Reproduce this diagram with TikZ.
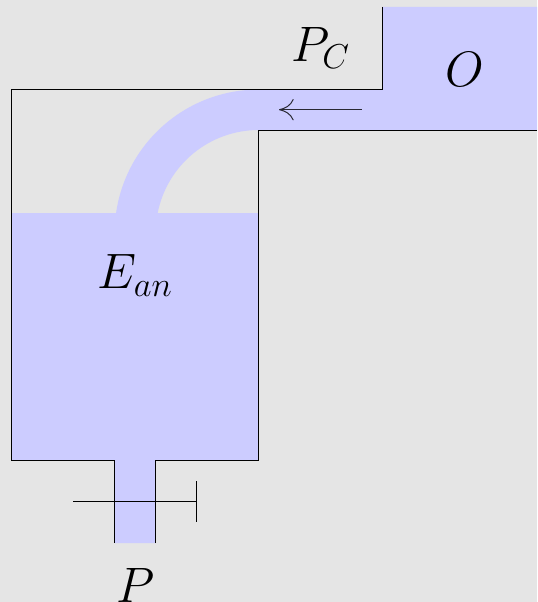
\documentclass[tikz,border=0pt]{standalone}
\usetikzlibrary{arrows.meta}
\definecolor{bgc}{HTML}{E5E5E5}
\definecolor{liquid}{HTML}{CCCCFF}
\tikzset{
  wall/.style={draw=black,line width=0.7pt,line join=miter},
  liq/.style={fill=liquid,draw=none},
  lab/.style={font=\LARGE,scale=2.16,inner sep=0pt},
}
\begin{document}
\begin{tikzpicture}[x=0.75pt,y=-0.75pt]
\fill[bgc] (0,0) rectangle (537,602);
\useasboundingbox (0,0) rectangle (537,602);
% liquid: tank with spout, in one outline
\fill[liq] (11,213) -- (258.7,213) -- (258.7,460) -- (155.5,460) -- (155.5,543)
  -- (114,543) -- (114,460) -- (11,460) -- cycle;
% liquid: reservoir, pipe and bend, in one outline
\fill[liq] (116,213.5) arc[start angle=188,end angle=270,radius=144]
  -- (382,89) -- (382,7) -- (537,7) -- (537,130)
  -- (258.7,130) arc[start angle=270,end angle=191.2,radius=103] -- cycle;
% walls
\draw[wall] (382,7) -- (382,89) -- (11,89) -- (11,460) -- (114,460) -- (114,543);
\draw[wall] (155.5,543) -- (155.5,460) -- (258.7,460) -- (258.7,130) -- (537,130);
% valve
\coordinate (vl) at (73,501.5);
\coordinate (vr) at (196.8,501.5);
\coordinate (vt) at (196.8,481);
\coordinate (vb) at (196.8,522);
\draw[line width=0.7pt] (vl) -- (vr);
\draw[line width=0.7pt] (vt) -- (vb);
% flow arrow
\coordinate (fa) at (361.5,109.7);
\coordinate (fb) at (279,109.7);
\draw[line width=0.75pt,black!80!liquid,-{Computer Modern Rightarrow[length=11pt,width=16pt]}] (fa) -- (fb);
% labels
\node[lab] (pc) at (320.8,48) {$P_C$};
\node[lab] (o) at (465,69.5) {$O$};
\node[lab] (ean) at (135.5,275.5) {$E_{an}$};
\node[lab] (p) at (135.5,585) {$P$};
\end{tikzpicture}
\end{document}
